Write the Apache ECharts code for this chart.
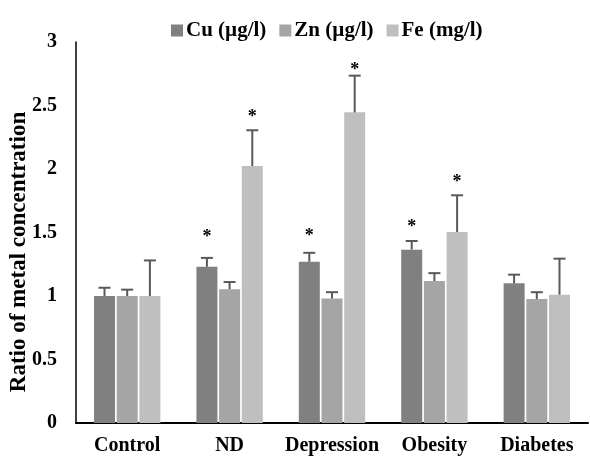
<!DOCTYPE html>
<html>
<head>
<meta charset="utf-8">
<script src="https://cdn.jsdelivr.net/npm/echarts@6/dist/echarts.min.js"></script>
<style>
  html, body { margin: 0; padding: 0; background: #fff; }
  #chart { width: 590px; height: 457px; }
</style>
</head>
<body>
<div id="chart"></div>
<script>
// categories and values
const categories = ['Control', 'ND', 'Depression', 'Obesity', 'Diabetes'];
const seriesNames = ['Cu (µg/l)', 'Zn (µg/l)', 'Fe (mg/l)'];
const cuMean = [1.0, 1.23, 1.27, 1.365, 1.10];
const cuSd = [0.065, 0.07, 0.07, 0.068, 0.068];
const znMean = [1.0, 1.053, 0.98, 1.118, 0.976];
const znSd = [0.05, 0.057, 0.05, 0.062, 0.054];
const feMean = [1.0, 2.024, 2.446, 1.504, 1.01];
const feSd = [0.28, 0.281, 0.289, 0.289, 0.284];
// asterisk positions (value units), null = no mark
const cuStar = [null, 1.49, 1.50, 1.575, null];
const znStar = [null, null, null, null, null];
const feStar = [null, 2.44, 2.81, 1.93, null];
const yTicks = [0, 0.5, 1, 1.5, 2, 2.5, 3];

const colors = ['#808080', '#a5a5a5', '#bfbfbf'];
const font = '"Liberation Serif", "Times New Roman", serif';
const barW = 21;
const barStep = 22.7;

const means = [cuMean, znMean, feMean];
const sds = [cuSd, znSd, feSd];
const stars = [cuStar, znStar, feStar];

// flat rows for the error bar series: [catIdx, seriesIdx, mean, top]
const errRows = [];
const starRows = [];
for (let s = 0; s < 3; s++) {
  for (let i = 0; i < categories.length; i++) {
    errRows.push([i, s, means[s][i], means[s][i] + sds[s][i]]);
    if (stars[s][i] != null) starRows.push([i, s, stars[s][i]]);
  }
}

const chart = echarts.init(document.getElementById('chart'));

chart.setOption({
  animation: false,
  color: colors,
  grid: { left: 76, right: 2, top: 42, bottom: 34 },
  legend: {
    data: seriesNames,
    top: 15,
    left: 166,
    icon: 'rect',
    itemWidth: 12,
    itemHeight: 12,
    itemGap: 13,
    textStyle: { fontFamily: font, fontWeight: 'bold', fontSize: 21, color: '#000', padding: [0, 0, 0, -2] }
  },
  xAxis: {
    type: 'category',
    data: categories,
    axisLine: { lineStyle: { color: '#000', width: 2 } },
    axisTick: { show: false },
    axisLabel: { interval: 0, fontFamily: font, fontWeight: 'bold', fontSize: 20, color: '#000', margin: 13 }
  },
  yAxis: {
    type: 'value',
    min: 0,
    max: 3,
    interval: 0.5,
    splitLine: { show: false },
    axisLine: { show: true, lineStyle: { color: '#000', width: 1.5 } },
    axisTick: { show: false },
    axisLabel: {
      fontFamily: font, fontWeight: 'bold', fontSize: 20, color: '#000', margin: 19,
      formatter: v => yTicks.indexOf(v) >= 0 ? String(v) : ''
    }
  },
  graphic: [{
    type: 'text',
    rotation: Math.PI / 2,
    x: 19,
    y: 252,
    style: {
      text: 'Ratio of metal concentration',
      fontFamily: font, fontWeight: 'bold', fontSize: 23, fill: '#000',
      x: 0, y: 0, align: 'center', verticalAlign: 'middle'
    }
  }],
  series: [
    { name: seriesNames[0], type: 'bar', data: cuMean, barWidth: barW, barGap: '8%', itemStyle: { color: colors[0] } },
    { name: seriesNames[1], type: 'bar', data: znMean, barWidth: barW, barGap: '8%', itemStyle: { color: colors[1] } },
    { name: seriesNames[2], type: 'bar', data: feMean, barWidth: barW, barGap: '8%', itemStyle: { color: colors[2] } },
    {
      type: 'custom',
      data: errRows,
      z: 5,
      renderItem: function (params, api) {
        const off = (api.value(1) - 1) * barStep;
        const base = api.coord([api.value(0), api.value(2)]);
        const top = api.coord([api.value(0), api.value(3)]);
        const x = base[0] + off;
        const st = { stroke: '#595959', lineWidth: 2 };
        return {
          type: 'group',
          children: [
            { type: 'line', shape: { x1: x, y1: base[1], x2: x, y2: top[1] }, style: st },
            { type: 'line', shape: { x1: x - 6, y1: top[1], x2: x + 6, y2: top[1] }, style: st }
          ]
        };
      }
    },
    {
      type: 'custom',
      data: starRows,
      z: 6,
      renderItem: function (params, api) {
        const off = (api.value(1) - 1) * barStep;
        const p = api.coord([api.value(0), api.value(2)]);
        return {
          type: 'text',
          style: {
            text: '*',
            x: p[0] + off,
            y: p[1] + 4,
            align: 'center',
            verticalAlign: 'middle',
            fontFamily: font,
            fontWeight: 'bold',
            fontSize: 18,
            fill: '#000'
          }
        };
      }
    }
  ]
});
</script>
</body>
</html>
